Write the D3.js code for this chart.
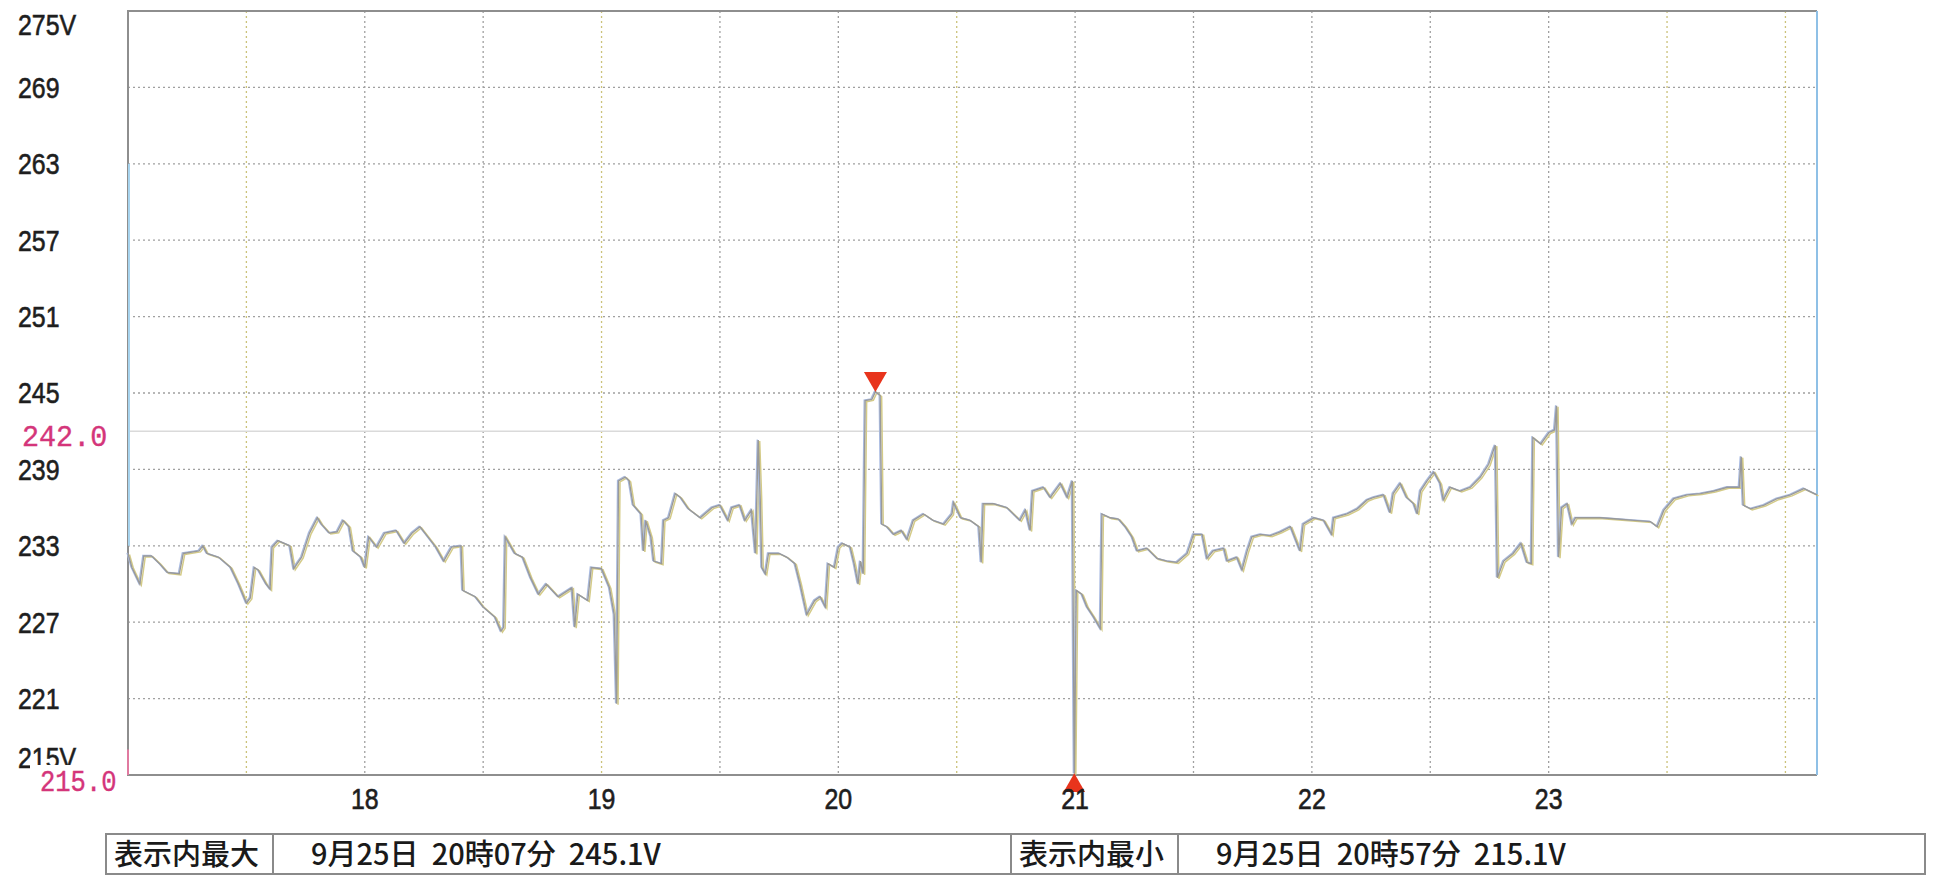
<!DOCTYPE html>
<html>
<head>
<meta charset="utf-8">
<script src="https://cdn.jsdelivr.net/npm/d3@7"></script>
<style>
  body { margin: 0; background: #fff; }
  text { font-family: "Liberation Sans", Arial, sans-serif; }
  .mono { font-family: "Liberation Mono", "DejaVu Sans Mono", monospace; }
  .jp { font-family: "Noto Sans CJK JP", sans-serif; font-weight: 500; white-space: pre; }
</style>
</head>
<body>
<svg id="chart"></svg>
<script>
// minutes after 17:00 and volts
const minutes = [0,1,3,4,6,8,10,13,14,18,19,20,23,26,28,30,31,32,33,35,36,36.5,38,41,42,44,46,48,49,51,53,54.5,56,57,59,60,61,63,65,68,70,72,74,76,78,80,82,84.4,84.8,88,90,93,94.5,95.2,95.6,98,100,102,104,106,109,112.5,113.2,114,116.5,117.4,120,122,123.2,123.8,124.3,126,127,128,130,130.6,131.2,132.5,133.2,135.2,135.7,137,138.7,140,142,145,148,150,152,153,155,156.3,158,159,159.7,160.2,160.6,161.5,162.3,165,167,169,170.3,172,174,175.4,176.7,177.4,179,180,181,183,184,185,185.6,186.3,186.8,188.5,189.4,190.6,191,192.3,194,196,197.4,199,201.6,204,206.7,208.8,209.2,211,213.4,215.6,216.2,216.7,219.4,222.7,226,227.4,228.6,229.2,232,233.7,236.3,238,239.3,239.8,240.3,241.7,243,244.7,246.4,246.8,248.9,251,252.7,254.4,255.7,258.2,260.8,263.3,265.8,268.4,270,272.2,273.4,275,277.7,278.5,281,282.3,283.6,284.8,287,289.5,292,294.6,297,297.8,300.5,303,305,305.5,308.9,311.5,314,315.7,318.2,319.8,320.6,322.4,324,325.8,326.7,327.5,329.2,330.9,332.5,333.3,335,337.6,340.2,342.7,344.8,346.1,346.5,347,348.6,351,353,354.5,355.6,356,358,360.1,361.5,362,362.5,363.3,364.7,365.9,366.8,369.8,373.2,377.4,381.6,385.8,387.5,389.2,391.7,395.1,398.5,401.9,405.3,408.3,408.8,409.3,411.2,414.6,417.9,421.3,424.7,428];
const volts = [232.4,231.3,230.0,232.2,232.2,231.6,230.9,230.8,232.4,232.6,233.0,232.4,232.1,231.3,230.0,228.5,228.9,231.3,231.1,230.0,229.6,232.9,233.4,233.0,231.2,232.1,234.0,235.2,234.7,234.0,234.1,235.0,234.5,232.6,232.1,231.3,233.7,232.9,234.0,234.2,233.2,234.0,234.5,233.7,232.9,231.8,232.9,233.0,229.5,229.0,228.2,227.4,226.3,226.6,233.7,232.4,232.1,230.5,229.2,230.0,229.0,229.7,226.6,229.2,228.7,231.3,231.2,229.7,227.6,220.6,238.1,238.4,238.1,236.2,235.5,232.6,235.0,233.7,231.8,231.6,235.0,235.2,237.1,236.8,235.9,235.2,236.0,236.2,235.0,236.0,236.2,235.0,235.8,232.4,241.3,236.8,231.3,230.8,232.4,232.4,232.1,231.6,230.0,227.6,228.7,229.0,228.2,231.6,231.3,232.9,233.2,232.9,231.6,230.0,231.8,230.8,244.4,244.5,245.1,244.8,234.7,234.5,233.9,234.2,233.5,235.0,235.5,235.0,234.7,235.5,236.4,235.2,235.0,234.5,231.7,236.3,236.3,236.0,235.0,235.8,234.2,237.3,237.6,236.8,237.9,236.8,238.1,215.1,229.5,229.2,228.2,227.4,226.5,235.5,235.2,235.1,234.5,233.7,232.6,232.8,232.0,231.8,231.7,232.4,233.9,233.9,232.0,232.6,232.8,231.8,232.1,231.1,232.6,233.7,233.9,233.8,234.1,234.5,232.6,234.7,235.2,235.0,233.9,235.2,235.5,235.9,236.6,236.8,237.0,235.6,237.1,237.9,236.8,236.3,235.5,237.3,238.1,238.8,237.9,236.6,237.6,237.3,237.6,238.4,239.4,240.6,240.9,230.5,231.8,232.4,233.2,231.7,231.6,241.5,241.0,241.9,242.1,244.0,232.1,236.0,236.3,234.7,235.2,235.2,235.2,235.1,235.0,234.9,234.5,235.8,236.7,237.0,237.1,237.3,237.6,237.6,240.0,236.2,235.9,236.2,236.7,237.0,237.5,237.0];

const yTicks = [275, 269, 263, 257, 251, 245, 239, 233, 227, 221, 215];
const yTickLabels = ["275V", "269", "263", "257", "251", "245", "239", "233", "227", "221", "215V"];
const hourTicks = [60, 120, 180, 240, 300, 360];
const hourLabels = ["18", "19", "20", "21", "22", "23"];
const gridMinutes = [30, 60, 90, 120, 150, 180, 210, 240, 270, 300, 330, 360, 390, 420];
const yellowGrid = [30, 120, 210, 390, 420];
const refValues = [242.0, 215.0];
const refLabels = ["242.0", "215.0"];
const summaryHeads = ["表示内最大", "表示内最小"];
const summaryTexts = ["9月25日  20時07分  245.1V", "9月25日  20時57分  215.1V"];

const W = 1940, H = 877;
const plotL = 128, plotR = 1817, plotT = 11, plotB = 775;

const svg = d3.select("#chart").attr("width", W).attr("height", H);

const x = d3.scaleLinear().domain([0, 428]).range([plotL, plotR]);
const y = d3.scaleLinear().domain([215, 275]).range([plotB, plotT]);

const data = minutes.map((m, i) => ({ t: m, v: volts[i] }));

// horizontal grid
svg.append("g")
  .selectAll("line")
  .data(yTicks.filter(d => d != 275 && d != 215))
  .join("line")
    .attr("x1", plotL).attr("x2", plotR)
    .attr("y1", d => y(d)).attr("y2", d => y(d))
    .attr("stroke", "#a0a0a0")
    .attr("stroke-width", 1.3)
    .attr("stroke-dasharray", "2,3");

// vertical grid
svg.append("g")
  .selectAll("line")
  .data(gridMinutes)
  .join("line")
    .attr("x1", d => x(d)).attr("x2", d => x(d))
    .attr("y1", plotT).attr("y2", plotB)
    .attr("stroke", d => yellowGrid.includes(d) ? "#cbc27a" : "#a0a0a0")
    .attr("stroke-width", 1.3)
    .attr("stroke-dasharray", "2,3");

// reference line 242
svg.append("line")
  .attr("x1", plotL).attr("x2", plotR)
  .attr("y1", y(refValues[0])).attr("y2", y(refValues[0]))
  .attr("stroke", "#dadada")
  .attr("stroke-width", 1.5);

// frame
svg.append("path")
  .attr("d", `M${plotR},${plotT} H${plotL} V${plotB} H${plotR}`)
  .attr("fill", "none")
  .attr("stroke", "#8e8e8e")
  .attr("stroke-width", 2);
svg.append("line")
  .attr("x1", plotR).attr("x2", plotR)
  .attr("y1", plotT).attr("y2", plotB)
  .attr("stroke", "#8fc0e6")
  .attr("stroke-width", 2);
svg.append("line")
  .attr("x1", plotL + 1).attr("x2", plotL + 1)
  .attr("y1", y(263)).attr("y2", y(233))
  .attr("stroke", "#a8d4ee")
  .attr("stroke-width", 2);
svg.append("line")
  .attr("x1", plotL).attr("x2", plotL)
  .attr("y1", y(217)).attr("y2", y(215))
  .attr("stroke", "#e07aa0")
  .attr("stroke-width", 2);

// voltage trace: drawn three times, like the logger's overlapped phases
const line = d3.line()
  .x(d => x(d.t))
  .y(d => y(d.v));

svg.append("path")
  .datum(data)
  .attr("d", line)
  .attr("transform", "translate(1.5,1)")
  .attr("fill", "none")
  .attr("stroke", "#d4cb88")
  .attr("stroke-width", 1.5);
svg.append("path")
  .datum(data)
  .attr("d", line)
  .attr("transform", "translate(-1,-0.5)")
  .attr("fill", "none")
  .attr("stroke", "#a9bbe2")
  .attr("stroke-width", 1.3);
svg.append("path")
  .datum(data)
  .attr("d", line)
  .attr("fill", "none")
  .attr("stroke", "#999999")
  .attr("stroke-width", 1.4);

// max / min markers
const maxD = data.reduce((a, b) => b.v > a.v ? b : a);
const minD = data.reduce((a, b) => b.v < a.v ? b : a);
svg.append("path")
  .attr("d", d3.symbol(d3.symbolTriangle, 230)())
  .attr("transform", `translate(${x(maxD.t)},${y(maxD.v) - 13}) rotate(180)`)
  .attr("fill", "#e8341c");
svg.append("path")
  .attr("d", d3.symbol(d3.symbolTriangle, 200)())
  .attr("transform", `translate(${x(minD.t)},${y(minD.v) + 12})`)
  .attr("fill", "#e8341c");

// y labels (narrow face)
svg.append("g")
  .selectAll("text")
  .data(yTicks)
  .join("text")
    .attr("transform", d => `translate(18,${y(d) + (d == 275 ? 14 : d == 215 ? -17 : 0)}) scale(0.86,1)`)
    .attr("dy", "0.36em")
    .attr("font-size", 29)
    .attr("fill", "#1e1e1e")
    .attr("stroke", "#1e1e1e")
    .attr("stroke-width", 0.6)
    .text((d, i) => yTickLabels[i]);

// pink reference labels
svg.append("rect")
  .attr("x", 30).attr("y", y(215) - 10)
  .attr("width", 97).attr("height", 32)
  .attr("fill", "#fff");
svg.append("g")
  .selectAll("text")
  .data(refValues)
  .join("text")
    .attr("class", "mono")
    .attr("transform", (d, i) => `translate(${i == 0 ? 22 : 40},${y(d) + (i == 0 ? 4 : 6)}) scale(${i == 0 ? 0.98 : 0.88},1)`)
    .attr("dy", "0.36em")
    .attr("font-size", 29)
    .attr("fill", "#d4357a")
    .attr("stroke", "#d4357a")
    .attr("stroke-width", 0.4)
    .text((d, i) => refLabels[i]);

// x labels
svg.append("g")
  .selectAll("text")
  .data(hourTicks)
  .join("text")
    .attr("transform", d => `translate(${x(d)},799) scale(0.86,1)`)
    .attr("dy", "0.36em")
    .attr("text-anchor", "middle")
    .attr("font-size", 29)
    .attr("fill", "#1e1e1e")
    .attr("stroke", "#1e1e1e")
    .attr("stroke-width", 0.6)
    .text((d, i) => hourLabels[i]);

// summary boxes
const boxes = [
  { x0: 106, x1: 1011, div: 273 },
  { x0: 1011, x1: 1925, div: 1178 }
];
const box = svg.append("g").selectAll("g")
  .data(boxes)
  .join("g");
box.append("rect")
  .attr("x", d => d.x0).attr("y", 834)
  .attr("width", d => d.x1 - d.x0).attr("height", 40)
  .attr("fill", "#fff")
  .attr("stroke", "#8a8a8a")
  .attr("stroke-width", 2);
box.append("line")
  .attr("x1", d => d.div).attr("x2", d => d.div)
  .attr("y1", 834).attr("y2", 874)
  .attr("stroke", "#8a8a8a")
  .attr("stroke-width", 2);
box.append("text")
  .attr("class", "jp")
  .attr("x", d => d.x0 + 8)
  .attr("y", 855)
  .attr("dy", "0.36em")
  .attr("font-size", 29)
  .attr("fill", "#1a1a1a")
  .text((d, i) => summaryHeads[i]);
box.append("text")
  .attr("class", "jp")
  .attr("x", d => d.div + 38)
  .attr("y", 855)
  .attr("dy", "0.36em")
  .attr("font-size", 29)
  .attr("fill", "#1a1a1a")
  .text((d, i) => summaryTexts[i]);
</script>
</body>
</html>
